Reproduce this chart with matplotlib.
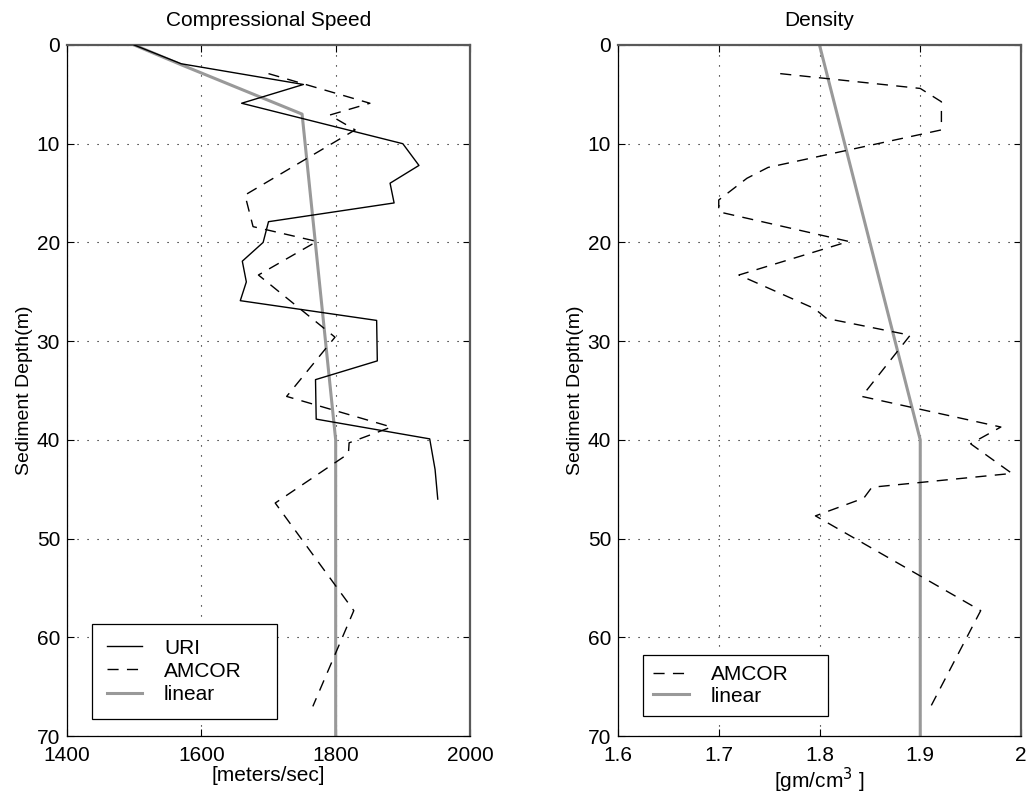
import matplotlib
matplotlib.use("Agg")
import matplotlib.pyplot as plt

plt.rcParams['font.family'] = ['Liberation Sans', 'DejaVu Sans']

# ---- Compressional speed data ----
uri_depth = [0, 1.9, 4.0, 5.9, 10.0, 12.2, 14.0, 16.0, 17.9, 20.0, 21.9, 24.0, 25.9,
             27.9, 32.0, 33.9, 37.9, 39.9, 43.0, 46.0]
uri_speed = [1500, 1570, 1752, 1660, 1900, 1924, 1881, 1887, 1700, 1692, 1661, 1667, 1658,
             1861, 1862, 1770, 1771, 1940, 1948, 1952]

amcor_depth = [2.9, 5.9, 7.1, 8.6, 15.2, 18.4, 19.9, 23.3, 29.6, 35.6, 38.7, 40.3, 41.4,
               46.4, 57.3, 67.0]
amcor_speed = [1700, 1851, 1791, 1829, 1665, 1677, 1772, 1685, 1799, 1727, 1883, 1820, 1819,
               1710, 1827, 1766]

lin_depth = [0, 2, 7, 40, 70]
lin_speed = [1500, 1570, 1750, 1800, 1800]

# ---- Density data ----
amcor_rho_depth = [2.9, 4.4, 5.75, 8.6, 12.4, 13.5, 15.7, 16.9, 19.9, 23.3, 26.7, 27.7, 29.4,
                   35.6, 38.7, 40.4, 43.4, 44.8, 45.9, 47.7, 57.3, 66.9]
amcor_rho = [1.761, 1.900, 1.921, 1.921, 1.749, 1.728, 1.700, 1.700, 1.829, 1.720, 1.795,
             1.807, 1.890, 1.842, 1.980, 1.950, 1.991, 1.852, 1.844, 1.796, 1.960, 1.911]

lin_rho_depth = [0, 40, 70]
lin_rho = [1.8, 1.9, 1.9]

speed_ticks = [1400, 1600, 1800, 2000]
rho_ticks = [1.6, 1.7, 1.8, 1.9, 2.0]
rho_ticklabels = ['1.6', '1.7', '1.8', '1.9', '2']
depth_ticks = [0, 10, 20, 30, 40, 50, 60, 70]

fig = plt.figure(figsize=(10.28, 7.97), dpi=100)
W, H = 1028, 797
ax1 = fig.add_axes([67 / W, (H - 736) / H, 403 / W, 691 / H])
ax2 = fig.add_axes([618 / W, (H - 736) / H, 403 / W, 691 / H])

GRAY = '0.6'
DASH = (8, 6)
FS = 15
LW = 1.0


def style(ax):
    ax.set_ylim(70, 0)
    ax.set_yticks(depth_ticks)
    ax.grid(True, linestyle=(0, (1, 8)), color='k', linewidth=0.8)
    ax.tick_params(direction='in', top=True, right=True, length=5, labelsize=FS, width=0.8)
    ax.tick_params(axis='x', pad=7)
    ax.tick_params(axis='y', pad=5)
    for s in ['left', 'bottom']:
        ax.spines[s].set_color('k')
        ax.spines[s].set_linewidth(0.9)
    for s in ['top', 'right']:
        ax.spines[s].set_color('0.35')
        ax.spines[s].set_linewidth(1.6)
    ax.set_ylabel('Sediment Depth(m)', fontsize=14, labelpad=3)


def legend(ax, handles, labels, box_h, spacing, bpad):
    leg = ax.legend(handles, labels, loc='upper left', mode='expand',
                    bbox_to_anchor=(25 / 403, (19 + box_h) / 691, 185 / 403, 0),
                    fontsize=FS, frameon=True, fancybox=False, edgecolor='k',
                    framealpha=1, borderpad=bpad, labelspacing=spacing,
                    handlelength=1.7, handletextpad=1.05, borderaxespad=0)
    leg.get_frame().set_linewidth(0.9)
    return leg


# Left panel
ax1.plot(lin_speed, lin_depth, color=GRAY, lw=2.2, label='linear', zorder=2)
ax1.plot(uri_speed, uri_depth, color='k', lw=LW, label='URI', zorder=3)
ax1.plot(amcor_speed, amcor_depth, color='k', lw=LW, dashes=DASH, label='AMCOR', zorder=3)
ax1.set_xlim(1400, 2000)
ax1.set_xticks(speed_ticks)
style(ax1)
ax1.set_title('Compressional Speed', fontsize=FS, pad=14)
ax1.set_xlabel('[meters/sec]', fontsize=FS, labelpad=1)
h, l = ax1.get_legend_handles_labels()
legend(ax1, [h[1], h[2], h[0]], [l[1], l[2], l[0]], 93, 0.2, 0.7)

# Right panel
ax2.plot(lin_rho, lin_rho_depth, color=GRAY, lw=2.2, label='linear', zorder=2)
ax2.plot(amcor_rho, amcor_rho_depth, color='k', lw=LW, dashes=DASH, label='AMCOR', zorder=3)
ax2.set_xlim(1.6, 2.0)
ax2.set_xticks(rho_ticks)
ax2.set_xticklabels(rho_ticklabels)
style(ax2)
ax2.set_title('Density', fontsize=FS, pad=14)
ax2.set_xlabel('[gm/cm$^3$ ]', fontsize=FS, labelpad=1)
h, l = ax2.get_legend_handles_labels()
legend(ax2, [h[1], h[0]], [l[1], l[0]], 62, 0.1, 0.5)

fig.savefig('out.png', dpi=100)
